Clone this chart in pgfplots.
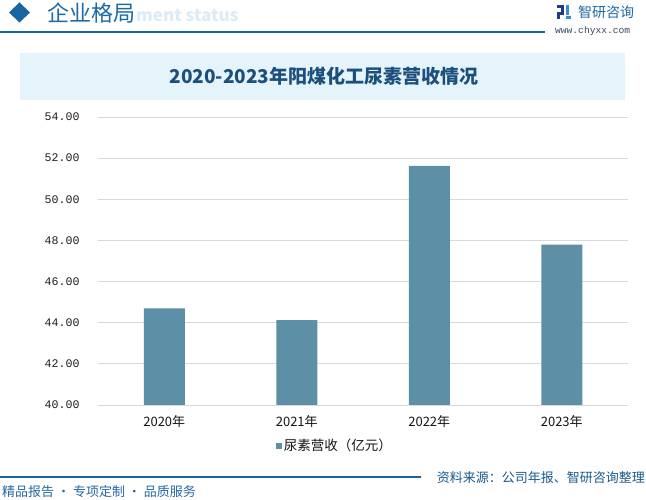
\documentclass[border=0pt]{standalone}
\usepackage{fontspec}
\setmainfont{Noto Sans CJK SC}
\newfontfamily\monof{Liberation Mono}
\usepackage{pgfplots}
\pgfplotsset{compat=1.18}
\definecolor{barc}{HTML}{5D90A7}
\definecolor{hdr}{HTML}{1A64A0}
\definecolor{hdrtxt}{HTML}{1C6AA6}
\definecolor{band}{HTML}{E5F3FB}
\definecolor{ttl}{HTML}{1B4F7C}
\definecolor{gridc}{HTML}{D9D9D9}
\definecolor{faint}{HTML}{DCEBF6}
\definecolor{srcc}{HTML}{1A5A8C}
\definecolor{footc}{HTML}{2568A8}
\definecolor{lightl}{HTML}{A8C8E0}
\definecolor{logod}{HTML}{1F3A8A}
\definecolor{logol}{HTML}{3C8DD0}
\begin{document}
\begin{tikzpicture}
\path[use as bounding box, fill=white] (0,0) rectangle (646bp,500bp);
\begin{scope}[x=1bp,y=-1bp,yshift=500bp]
  % header
  \node[anchor=west, text=faint, font=\fontsize{17bp}{19bp}\selectfont\bfseries, inner sep=0] at (136,16) {ment status};
  \fill[hdr] (19.5,2.5) -- (30,12.5) -- (19.5,22.5) -- (9,12.5) -- cycle;
  \node[anchor=west, text=hdrtxt, font=\fontsize{22bp}{24bp}\selectfont, inner sep=0] at (47,13) {企业格局};
  \draw[hdr, line width=1.2bp] (0,32) -- (545,32);
  % logo
  \fill[logod] (557,5) rectangle (564,8);
  \fill[logod] (561,8) rectangle (564,12);
  \fill[logod] (557,12) rectangle (564,15);
  \fill[logod] (557,15) rectangle (560,19);
  \fill[logol] (566,5) rectangle (569,15);
  \fill[logol] (566,16) rectangle (571,19);
  \node[anchor=west, text=hdrtxt, font=\fontsize{14bp}{16bp}\selectfont, inner sep=0] at (578,12) {智研咨询};
  \node[anchor=west, text={rgb,255:red,60;green,70;blue,90}, font=\monof\fontsize{9.6bp}{11bp}\selectfont, inner sep=0] at (555,31.5) {www.chyxx.com};
  % title band
  \fill[band] (20,53) rectangle (625,100);
  \node[text=ttl, font=\fontsize{19bp}{21bp}\selectfont\bfseries] at (324,76.5) {2020-2023年阳煤化工尿素营收情况};
  % footer
  \shade[left color=hdr, middle color=lightl, right color=hdr] (0,476.3) rectangle (421,477.7);
  \node[anchor=east, text=srcc, font=\fontsize{13bp}{15bp}\selectfont, inner sep=0] at (645,478) {资料来源：公司年报、智研咨询整理};
  \node[anchor=west, text=footc, font=\fontsize{13bp}{15bp}\selectfont, inner sep=0] at (2,492) {精品报告 · 专项定制 · 品质服务};
\end{scope}
\begin{axis}[
  at={(98bp,95bp)}, anchor=south west,
  scale only axis, width=530bp, height=288bp,
  ymin=40, ymax=54, ytick={40,42,...,54},
  xmin=-0.5, xmax=3.5, xtick=data,
  xticklabels={2020年,2021年,2022年,2023年},
  ybar, bar width=41bp,
  axis line style={draw=none},
  ymajorgrids, grid style={gridc, line width=0.8bp},
  major tick length=0pt,
  xtick style={draw=none}, ytick style={draw=none},
  /pgf/number format/assume math mode=true,
  yticklabel style={font=\monof\fontsize{11.6bp}{13bp}\selectfont, text={rgb,255:red,30;green,30;blue,30}, xshift=-15bp,
    /pgf/number format/fixed, /pgf/number format/fixed zerofill, /pgf/number format/precision=2},
  xticklabel style={font=\fontsize{13bp}{15bp}\selectfont, text={rgb,255:red,20;green,20;blue,20}, yshift=-7bp},
  legend style={at={(0.447,-0.142)}, anchor=center, draw=none, fill=none,
    font=\fontsize{13.5bp}{15bp}\selectfont, text={rgb,255:red,20;green,20;blue,20}},
  legend image code/.code={\fill[barc] (0bp,-3bp) rectangle (6bp,3bp);},
]
\addplot[fill=barc, draw=none] coordinates {(0,44.70) (1,44.12) (2,51.62) (3,47.80)};
\addlegendentry{尿素营收（亿元）}
\end{axis}
\end{tikzpicture}
\end{document}
